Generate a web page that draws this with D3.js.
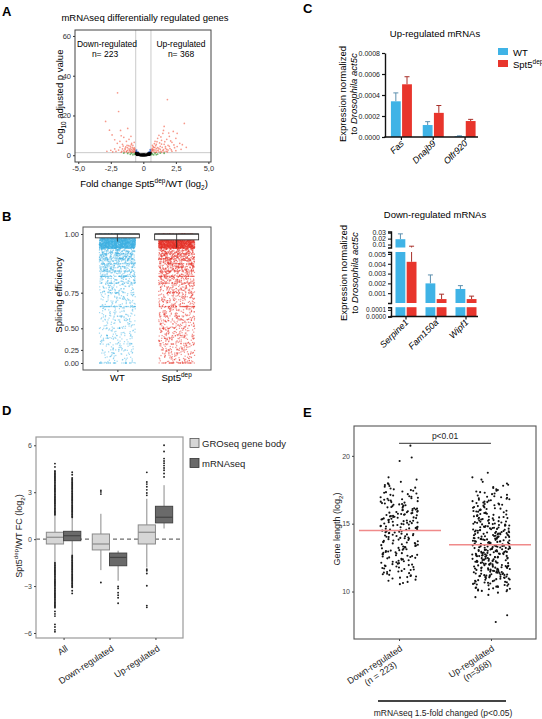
<!DOCTYPE html>
<html><head><meta charset="utf-8">
<script src="https://cdn.jsdelivr.net/npm/d3@7"></script>
<style>body{margin:0;background:#fff}svg{display:block;font-family:"Liberation Sans",Arial,Helvetica,sans-serif}</style>
</head><body><svg id="fig" width="542" height="719"></svg>
<script>
// ================= DATA =================
// Panel A: volcano plot  [log2 fold change, -log10 adjusted p]
const volcanoRed = [[-1.98,31.4],[-1.9,22],[-2.9,17],[-1.75,12.5],[-1.2,13.5],[-2.4,10.2],[-2.6,12.6],[-1.5,9],[-1.1,8],[-1.3,7],[-0.9,6],[-0.8,5],[-1.0,4.5],[-1.6,5.5],[-2.0,6],[-1.8,4],[-1.4,3.5],[-0.7,3.8],[-0.65,2.5],[-0.9,2.8],[-1.2,2.5],[-1.5,2.2],[-1.9,2.6],[-2.2,3.2],[-0.75,1.8],[-1.0,1.6],[-1.3,1.7],[-1.7,1.5],[-2.1,1.9],[-0.85,4.0],[-1.1,3.2],[-0.7,6.5],[-1.25,5.0],[-0.62,2.0],[-0.95,1.9],[-1.4,2.9],[-1.6,3.2],[-1.05,2.2],[-0.8,2.3],[-0.72,2.9],[-2.5,2.5],[-1.15,1.5],[-0.88,1.5],[-1.35,4.2],[-1.8,7.0],[-0.95,9.5],[-2.2,7.8],[-0.68,1.6],[-0.78,3.3],[-0.98,3.6],[-1.12,4.8],[-1.45,1.6],[-1.55,4.6],[-1.65,2.0],[-2.35,1.7],[-0.82,1.45],[-1.28,2.1],[-0.92,5.3],[-1.7,9.8],[-0.66,3.2],[-1.02,2.7],[-1.22,3.8],[-2.8,2.0],[-0.6,1.5],
  [1.85,28],[3.15,16],[1.6,14.5],[2.3,12],[1.5,11],[1.2,10],[2.0,9.5],[2.6,11],[1.8,8],[1.1,8.5],[0.9,7],[1.4,7.5],[2.2,6.5],[1.0,5.5],[0.7,5],[1.6,5.5],[2.8,6],[1.3,4.5],[0.8,4],[2.0,4.5],[1.1,3.8],[0.65,3],[0.9,2.6],[1.3,3],[1.7,3.5],[2.4,3.8],[0.75,2.1],[1.05,2.2],[1.5,2.3],[1.9,2.6],[0.6,1.8],[0.85,1.6],[1.2,1.7],[1.6,1.6],[2.2,2.0],[0.7,3.5],[1.0,3.3],[1.45,4.0],[1.9,5.0],[2.5,8.5],[1.25,6.2],[0.95,4.8],[3.3,4],[1.75,2.0],[0.8,2.8],[1.15,2.6],[2.9,3],[1.35,2.0],[0.68,2.4],[0.95,1.45],[1.55,12.5],[1.95,11.2],[2.1,7.2],[1.35,9.2],[0.85,5.8],[1.65,6.8],[2.35,5.2],[1.05,6.8],[0.75,4.4],[1.4,5.6],[1.8,3.0],[2.05,3.4],[2.6,4.4],[0.62,1.5],[1.0,1.5],[1.4,1.45],[1.85,1.7],[2.5,2.3],[0.72,2.7],[1.2,3.5],[1.55,2.8],[2.15,2.7],[0.88,3.9],[3.0,5.3],[1.7,4.3]];
const volcanoGreen = [[-0.7,0.8],[-0.9,1.0],[-1.2,0.9],[-0.65,0.4],[-1.0,0.5],[-1.5,1.1],[-0.8,0.2],[0.7,0.7],[0.9,1.0],[1.1,0.6],[0.65,0.3],[1.3,1.1],[0.8,0.2],[1.6,1.0],[1.0,0.3]];
const volcanoBlue = [[-0.5,1.6],[-0.55,2.0],[-0.45,1.4],[-0.52,2.6],[0.5,1.7],[0.55,2.2],[0.45,1.5],[0.53,2.8],[-0.4,1.5],[0.4,1.4]];
const volcanoBlack = [[-0.55,1.1],[-0.5,0.9],[-0.45,0.7],[-0.4,0.55],[-0.35,0.4],[-0.3,0.3],[-0.25,0.2],[-0.2,0.12],[-0.15,0.06],[-0.1,0.03],[-0.05,0.01],[0,0],[0.05,0.01],[0.1,0.03],[0.15,0.06],[0.2,0.12],[0.25,0.2],[0.3,0.3],[0.35,0.4],[0.4,0.55],[0.45,0.7],[0.5,0.9],[0.55,1.1],[-0.52,0.5],[-0.42,0.3],[-0.32,0.1],[-0.22,0.05],[-0.12,0.3],[0.12,0.2],[0.22,0.08],[0.32,0.15],[0.42,0.35],[0.52,0.6],[-0.48,0.2],[0.48,0.25],[-0.38,0.8],[0.38,0.9],[0,0.4],[-0.05,0.2],[0.07,0.35]];
const volcanoXTicks = [-5,-2.5,0,2.5,5];
const volcanoXLabels = ["-5,0","-2,5","0","2,5","5,0"];
const volcanoYTicks = [0,20,40,60];
const volcanoFCcut = 0.585, volcanoPcut = 1.3;

// Panel B: splicing efficiency (bin start, counts per bin) + discrete-value stripes
const spliceGroups = ["WT","Spt5dep"];
const spliceBinStarts = [0,0.05,0.1,0.15,0.2,0.25,0.3,0.35,0.4,0.45,0.5,0.55,0.6,0.65,0.7,0.75,0.8,0.85,0.9,0.95];
const spliceWTCounts = [8,8,9,10,11,12,14,16,18,20,24,28,32,40,52,68,100,160,300,1700];
const spliceKOCounts = [16,16,17,18,20,22,26,30,34,38,44,50,56,66,80,100,135,200,320,1600];
const spliceStripeValues = [0.95,0.929,0.909,0.889,0.875,0.857,0.833,0.8,0.75,0.667,0.6,0.571,0.5,0.429,0.4,0.333,0.25,0.2,0];
const spliceStripeWT = [30,20,20,28,14,22,40,22,14,40,8,6,10,6,6,10,7,5,28];
const spliceStripeKO = [30,20,20,28,14,22,40,22,14,40,10,8,12,7,8,12,8,6,32];
const spliceQ3 = [1.0,1.0], spliceMedian = [1.0,1.0], spliceQ1 = [0.987,0.980], spliceWhiskLo = [0.974,0.952];
const spliceTicks = [0,0.25,0.5,0.75,1];

// Panel C: RT-qPCR
const upGenes = ["Fas","Dnajb9","Olfr920"];
const upWT = [0.00034,0.000114,0.000008];
const upWTerr = [0.00008,0.000032,0.000003];
const upKO = [0.000502,0.00023,0.000152];
const upKOerr = [0.000072,0.00007,0.000016];
const upTicks = [0,0.0002,0.0004,0.0006,0.0008];
const downGenes = ["Serpine1","Fam150a","Wipf1"];
const downWT = [0.019,0.002,0.00143];
const downWTerr = [0.009,0.00086,0.00034];
const downKO = [0.0042,0.0004,0.0004];
const downKOerr = [0.003,0.0005,0.0003];
const downSegDomains = [[0,0.00014],[0,0.0052],[0.005,0.032]];
const downSegTicks = [[0,0.0001],[0.001,0.002,0.003,0.004,0.005],[0.01,0.02,0.03]];
const downSegFormats = [".4f",".3f",".2f"];

// Panel D: box plot statistics (log2 FC)
const dCats = ["All","Down-regulated","Up-regulated"];
const groMed = [0.12,-0.31,0.44], groQ1 = [-0.31,-0.69,-0.31], groQ3 = [0.44,0.33,0.91];
const groLo = [-1.45,-1.98,-1.81], groHi = [1.56,1.62,2.58];
const groDense = [[[1.56,4.42],[-4.38,-1.45]],[],[]];
const groOut = [[4.83,4.62,-4.62,-4.78,-4.92,-5.45,-5.62,-5.8,-5.92],[3.12,3.02,2.88,-2.77],[4.27,3.65,3.52,3.35,3.15,2.95,2.8,-1.92,-2.02,-2.2,-2.98,-4.25,-4.36]];
const mrnaMed = [0.22,-1.17,1.4], mrnaQ1 = [-0.1,-1.7,1.04], mrnaQ3 = [0.5,-0.89,2.1];
const mrnaLo = [-1.0,-2.66,0.68], mrnaHi = [1.4,-0.74,3.45];
const mrnaDense = [[[1.4,3.96],[-3.08,-1.0]],[],[]];
const mrnaOut = [[4.28,4.12,-3.3,-3.47],[-3.03,-3.15,-3.42,-3.58,-3.75,-4.1],[6.0,5.6,5.15,5.0,4.85,4.7,4.55,4.4,4.2,3.98]];
const dTicks = [-6,-3,0,3,6];

// Panel E: gene length (log2) histogram counts per 0.5 bin
const eCats = ["Down","Up"];
const eBinStarts = [7.5,8,8.5,9,9.5,10,10.5,11,11.5,12,12.5,13,13.5,14,14.5,15,15.5,16,16.5,17,17.5,18,18.5,19,19.5,20,20.5];
const eDownCounts = [0,0,0,0,0,0,6,12,14,14,16,15,16,18,18,20,20,16,14,10,8,3,0,0,2,0,1];
const eUpCounts   = [1,1,0,0,3,16,20,28,30,30,34,34,30,29,24,20,18,16,14,10,6,3,1,0,0,0,0];
const eMedians = [14.5,13.45];
const eTicks = [10,15,20];
const eLabels = [["Down-regulated","(n = 223)"],["Up-regulated","(n=368)"]];

// ================= DRAWING =================
const svg = d3.select("#fig");
svg.append("rect").attr("width",542).attr("height",719).attr("fill","#fff");
const BLUE = "#3fb3e6", RED = "#e8352c";
// deterministic jitter (layout only)
const jit = n => { const s = Math.sin(n*127.1 + 311.7)*43758.5453; return s - Math.floor(s); };

function rich(t, parts, fs){
  let shift = 0;
  parts.forEach(([s,k]) => {
    const ts = t.append("tspan").text(s);
    let target = 0, size = fs;
    if (k === "sup") { target = -fs*0.4; size = fs*0.68; }
    else if (k === "sub") { target = fs*0.28; size = fs*0.68; }
    ts.attr("font-size", size);
    if (k === "it") ts.attr("font-style","italic");
    if (target !== shift) { ts.attr("dy", target - shift); shift = target; }
  });
  return t;
}
function letter(s,x,y){ svg.append("text").attr("x",x).attr("y",y).attr("font-size",13).attr("font-weight","bold").text(s); }
function styleAxis(g, fs, col){
  g.select(".domain").remove();
  g.selectAll(".tick line").attr("stroke",col||"#333");
  g.selectAll(".tick text").attr("font-size",fs).attr("fill",col||"#333").attr("font-family",null);
}
// places binned values: evenly spaced within each bin, jittered horizontally
function binPoints(starts, counts, width, cx, half, yfn, seed){
  const pts = []; let n = seed;
  starts.forEach((lo,i) => {
    for (let k=0;k<counts[i];k++){ pts.push([cx-half+jit(n)*2*half, yfn(lo+(k+0.5)/counts[i]*width)]); n++; }
  });
  return pts;
}

// ---------- Panel A ----------
letter("A",2,16);
{
  const x = d3.scaleLinear().domain([-5.25,5.2]).range([75,211]);
  const y = d3.scaleLinear().domain([-3.4,63]).range([162,30]);
  svg.append("text").attr("x",145).attr("y",21).attr("text-anchor","middle").attr("font-size",9.5).text("mRNAseq differentially regulated genes");
  const g = svg.append("g");
  [-volcanoFCcut, volcanoFCcut].forEach(v => g.append("line").attr("x1",x(v)).attr("x2",x(v)).attr("y1",30).attr("y2",162).attr("stroke","#c4c4c4").attr("stroke-width",0.9));
  g.append("line").attr("x1",75).attr("x2",211).attr("y1",y(volcanoPcut)).attr("y2",y(volcanoPcut)).attr("stroke","#c4c4c4").attr("stroke-width",0.9);
  const pts = (arr,col,r,op) => g.append("g").selectAll("circle").data(arr).join("circle")
    .attr("cx",d=>x(d[0])).attr("cy",d=>y(d[1])).attr("r",r).attr("fill",col).attr("opacity",op);
  pts(volcanoRed,"#f0432a",0.85,0.55);
  pts(volcanoGreen,"#4fa64a",0.9,0.8);
  pts(volcanoBlue,"#3567c8",0.9,0.8);
  pts(volcanoBlack,"#000",1.3,1);
  svg.append("rect").attr("x",75).attr("y",30).attr("width",136).attr("height",132).attr("fill","none").attr("stroke","#444").attr("stroke-width",1);
  const ax = svg.append("g").attr("transform","translate(0,162)").call(d3.axisBottom(x).tickValues(volcanoXTicks).tickFormat((d,i)=>volcanoXLabels[i]).tickSize(2).tickPadding(2));
  styleAxis(ax,7.5);
  const ay = svg.append("g").attr("transform","translate(75,0)").call(d3.axisLeft(y).tickValues(volcanoYTicks).tickSize(2).tickPadding(2));
  styleAxis(ay,7.5);
  svg.append("text").attr("x",107).attr("y",47).attr("text-anchor","middle").attr("font-size",8.5).text("Down-regulated");
  svg.append("text").attr("x",105).attr("y",56.5).attr("text-anchor","middle").attr("font-size",8.5).text("n= 223");
  svg.append("text").attr("x",181).attr("y",47).attr("text-anchor","middle").attr("font-size",8.5).text("Up-regulated");
  svg.append("text").attr("x",181).attr("y",56.5).attr("text-anchor","middle").attr("font-size",8.5).text("n= 368");
  rich(svg.append("text").attr("transform","translate(63,97) rotate(-90)").attr("text-anchor","middle"),
    [["Log",""],["10","sub"],[" adjusted p value",""]],9.5);
  rich(svg.append("text").attr("x",144).attr("y",187).attr("text-anchor","middle"),
    [["Fold change Spt5",""],["dep","sup"],["/WT (log",""],["2","sub"],[")",""]],9.5);
}

// ---------- Panel B ----------
letter("B",2,221);
{
  const T = d3.scaleLinear().domain([0, Math.expm1(2)]).range([363,234]);
  const Y = v => T(Math.expm1(2*v));
  const X = d3.scalePoint().domain(spliceGroups).range([83,211]).padding(0.58);
  const half = 18;
  const groups = [[spliceWTCounts, spliceStripeWT, BLUE, 0.5],[spliceKOCounts, spliceStripeKO, RED, 0.55]];
  groups.forEach(([counts, stripes, col, op], gi) => {
    const cx = X(spliceGroups[gi]);
    const pts = binPoints(spliceBinStarts, counts, 0.05, cx, half, Y, 1000 + gi*9000);
    let n = 50000 + gi*3000;
    spliceStripeValues.forEach((v,i) => {
      for (let k=0;k<stripes[i];k++){ pts.push([cx-half+jit(n)*2*half, Y(v)]); n++; }
    });
    svg.append("g").selectAll("rect").data(pts).join("rect")
      .attr("x",d=>d[0]-0.6).attr("y",d=>d[1]-0.6).attr("width",1.2).attr("height",1.2)
      .attr("fill",col).attr("opacity",op);
    const bw = 22;
    svg.append("line").attr("x1",cx).attr("x2",cx).attr("y1",Y(spliceQ1[gi])).attr("y2",Y(spliceWhiskLo[gi])).attr("stroke","#222").attr("stroke-width",0.8);
    svg.append("rect").attr("x",cx-bw).attr("y",Y(spliceQ3[gi])).attr("width",2*bw).attr("height",Math.max(1,Y(spliceQ1[gi])-Y(spliceQ3[gi])))
      .attr("fill","#fff").attr("stroke","#333").attr("stroke-width",0.9);
    svg.append("line").attr("x1",cx-bw).attr("x2",cx+bw).attr("y1",Y(spliceMedian[gi])).attr("y2",Y(spliceMedian[gi])).attr("stroke","#222").attr("stroke-width",1);
    svg.append("line").attr("x1",cx).attr("x2",cx).attr("y1",Y(spliceMedian[gi])).attr("y2",Y(spliceQ1[gi])).attr("stroke","#222").attr("stroke-width",0.8);
  });
  svg.append("rect").attr("x",83).attr("y",227).attr("width",128).attr("height",143).attr("fill","none").attr("stroke","#555").attr("stroke-width",1);
  const ay = svg.append("g").attr("transform","translate(83,0)").call(d3.axisLeft(T).tickValues(spliceTicks.map(v=>Math.expm1(2*v))).tickFormat((d,i)=>d3.format(".2f")(spliceTicks[i])).tickSize(2).tickPadding(2));
  styleAxis(ay,7.5);
  const axb = svg.append("g").attr("transform","translate(0,370)").call(d3.axisBottom(X).tickSize(2).tickFormat(""));
  styleAxis(axb,8);
  svg.append("text").attr("x",X("WT")).attr("y",381).attr("text-anchor","middle").attr("font-size",9.5).text("WT");
  rich(svg.append("text").attr("x",X("Spt5dep")).attr("y",381).attr("text-anchor","middle"),[["Spt5",""],["dep","sup"]],9.5);
  svg.append("text").attr("transform","translate(62,295) rotate(-90)").attr("text-anchor","middle").attr("font-size",9.5).text("Splicing efficiency");
}

// ---------- Panel C ----------
letter("C",303,13);
{
  svg.append("rect").attr("x",498).attr("y",48).attr("width",10).attr("height",7).attr("fill",BLUE);
  svg.append("rect").attr("x",498).attr("y",60).attr("width",10).attr("height",7).attr("fill",RED);
  svg.append("text").attr("x",513).attr("y",55.5).attr("font-size",9.5).text("WT");
  rich(svg.append("text").attr("x",513).attr("y",67.5),[["Spt5",""],["dep","sup"]],9.5);

  const sub = d3.scaleBand().domain(["WT","KO"]).range([-10.5,10.5]).paddingInner(0.12);
  const ylabel = (cx,cy) => {
    svg.append("text").attr("transform",`translate(${cx},${cy}) rotate(-90)`).attr("text-anchor","middle").attr("font-size",9.5).text("Expression normalized");
    rich(svg.append("text").attr("transform",`translate(${cx+11},${cy}) rotate(-90)`).attr("text-anchor","middle"),[["to ",""],["Drosophila  act5c","it"]],9.5);
  };
  // Up-regulated
  {
    svg.append("text").attr("x",435).attr("y",37).attr("text-anchor","middle").attr("font-size",9.5).text("Up-regulated mRNAs");
    const Y = d3.scaleLinear().domain([0,0.0008]).range([137,53]);
    const X = d3.scaleBand().domain(upGenes).range([385.5,481]);
    const series = [["WT",upWT,upWTerr,BLUE,"#5d8fae"],["KO",upKO,upKOerr,RED,"#a8302a"]];
    series.forEach(([k,vals,errs,col,ecol]) => {
      upGenes.forEach((gname,i) => {
        const bx = X(gname)+X.bandwidth()/2+sub(k), bw = sub.bandwidth(), mx = bx+bw/2;
        const top = vals[i]+errs[i];
        svg.append("line").attr("x1",mx).attr("x2",mx).attr("y1",Y(vals[i])).attr("y2",Y(top)).attr("stroke",ecol).attr("stroke-width",1);
        svg.append("line").attr("x1",mx-2.5).attr("x2",mx+2.5).attr("y1",Y(top)).attr("y2",Y(top)).attr("stroke",ecol).attr("stroke-width",1);
        svg.append("rect").attr("x",bx).attr("y",Y(vals[i])).attr("width",bw).attr("height",Y(0)-Y(vals[i])).attr("fill",col);
      });
    });
    const ay = svg.append("g").attr("transform","translate(385,0)").call(d3.axisLeft(Y).tickValues(upTicks).tickFormat(d3.format(".4f")).tickSize(3).tickSizeOuter(0).tickPadding(2));
    ay.select(".domain").attr("stroke","#111").attr("stroke-width",1.4);
    ay.selectAll(".tick line").attr("stroke","#111").attr("stroke-width",1.2);
    ay.selectAll(".tick text").attr("font-size",7).attr("fill","#222").attr("font-family",null);
    svg.append("line").attr("x1",384.3).attr("x2",478).attr("y1",137).attr("y2",137).attr("stroke","#111").attr("stroke-width",1.5);
    upGenes.forEach(gname => {
      const cx = X(gname)+X.bandwidth()/2;
      svg.append("line").attr("x1",cx).attr("x2",cx).attr("y1",137).attr("y2",140).attr("stroke","#111").attr("stroke-width",1.2);
      svg.append("text").attr("transform",`translate(${cx+3},${144}) rotate(-45)`).attr("text-anchor","end").attr("font-size",9).attr("font-style","italic").text(gname);
    });
    ylabel(346,94);
  }
  // Down-regulated (broken axis)
  {
    svg.append("text").attr("x",435).attr("y",218).attr("text-anchor","middle").attr("font-size",9.5).text("Down-regulated mRNAs");
    const segRanges = [[316.5,307.2],[303,252],[247.5,231.5]];
    const X = d3.scaleBand().domain(downGenes).range([391,481]);
    const series = [["WT",downWT,downWTerr,BLUE,"#5d8fae"],["KO",downKO,downKOerr,RED,"#a8302a"]];
    downSegDomains.forEach((dom,si) => {
      const Y = d3.scaleLinear().domain(dom).range(segRanges[si]);
      series.forEach(([k,vals,errs,col,ecol]) => {
        downGenes.forEach((gname,i) => {
          const bx = X(gname)+X.bandwidth()/2+sub(k), bw = sub.bandwidth(), mx = bx+bw/2;
          const v = vals[i], top = vals[i]+errs[i];
          if (top > dom[0] && v < dom[1]) {
            const a = Math.max(v,dom[0]), b = Math.min(top,dom[1]);
            svg.append("line").attr("x1",mx).attr("x2",mx).attr("y1",Y(a)).attr("y2",Y(b)).attr("stroke",ecol).attr("stroke-width",1);
            if (top <= dom[1]) svg.append("line").attr("x1",mx-2.5).attr("x2",mx+2.5).attr("y1",Y(top)).attr("y2",Y(top)).attr("stroke",ecol).attr("stroke-width",1);
          }
          if (v > dom[0]) {
            const b = Math.min(v,dom[1]);
            svg.append("rect").attr("x",bx).attr("y",Y(b)).attr("width",bw).attr("height",Y(dom[0])-Y(b)).attr("fill",col);
          }
        });
      });
      const ay = svg.append("g").attr("transform","translate(391,0)").call(d3.axisLeft(Y).tickValues(downSegTicks[si]).tickFormat(d3.format(downSegFormats[si])).tickSize(3).tickSizeOuter(3).tickPadding(2));
      ay.select(".domain").attr("stroke","#111").attr("stroke-width",1.4).attr("fill","none");
      ay.selectAll(".tick line").attr("stroke","#111").attr("stroke-width",1.1);
      ay.selectAll(".tick text").attr("font-size",si===0?6.5:7).attr("fill","#222").attr("font-family",null);
    });
    svg.append("line").attr("x1",390.3).attr("x2",478).attr("y1",316.5).attr("y2",316.5).attr("stroke","#111").attr("stroke-width",1.5);
    downGenes.forEach(gname => {
      const cx = X(gname)+X.bandwidth()/2;
      svg.append("line").attr("x1",cx).attr("x2",cx).attr("y1",316.5).attr("y2",319.5).attr("stroke","#111").attr("stroke-width",1.2);
      svg.append("text").attr("transform",`translate(${cx+3},${323}) rotate(-45)`).attr("text-anchor","end").attr("font-size",9).attr("font-style","italic").text(gname);
    });
    ylabel(347,273);
  }
}

// ---------- Panel D ----------
letter("D",2,415);
{
  const X = d3.scalePoint().domain(dCats).range([36,183]).padding(0.6);
  const Y = d3.scaleLinear().domain([-6.32,6.53]).range([638,437]);
  const bw = X.step()*0.75/2;
  svg.append("line").attr("x1",36).attr("x2",183).attr("y1",Y(0)).attr("y2",Y(0)).attr("stroke","#6e6e6e").attr("stroke-width",1.3).attr("stroke-dasharray","4,3");
  const sets = [
    [groMed,groQ1,groQ3,groLo,groHi,groDense,groOut,"#d6d6d6","#8a8a8a",-1],
    [mrnaMed,mrnaQ1,mrnaQ3,mrnaLo,mrnaHi,mrnaDense,mrnaOut,"#6a6a6a","#444",0]
  ];
  sets.forEach(([med,q1,q3,lo,hi,dense,out,fill,stroke,off]) => {
    dCats.forEach((c,i) => {
      const x0 = X(c)+off*bw, cx = x0+bw/2;
      svg.append("line").attr("x1",cx).attr("x2",cx).attr("y1",Y(q3[i])).attr("y2",Y(hi[i])).attr("stroke","#8a8a8a").attr("stroke-width",1);
      svg.append("line").attr("x1",cx).attr("x2",cx).attr("y1",Y(q1[i])).attr("y2",Y(lo[i])).attr("stroke","#8a8a8a").attr("stroke-width",1);
      const dots = out[i].slice();
      dense[i].forEach(([a,b]) => d3.range(a,b,0.07).forEach(v => dots.push(v)));
      svg.append("g").selectAll("circle").data(dots).join("circle").attr("cx",cx).attr("cy",d=>Y(d)).attr("r",0.95).attr("fill","#222");
      svg.append("rect").attr("x",x0).attr("y",Y(q3[i])).attr("width",bw).attr("height",Y(q1[i])-Y(q3[i])).attr("fill",fill).attr("stroke",stroke).attr("stroke-width",1);
      svg.append("line").attr("x1",x0).attr("x2",x0+bw).attr("y1",Y(med[i])).attr("y2",Y(med[i])).attr("stroke",stroke).attr("stroke-width",1.2);
    });
  });
  svg.append("rect").attr("x",36).attr("y",437).attr("width",147).attr("height",201).attr("fill","none").attr("stroke","#9a9a9a").attr("stroke-width",1.2);
  const ay = svg.append("g").attr("transform","translate(36,0)").call(d3.axisLeft(Y).tickValues(dTicks).tickSize(2).tickPadding(2));
  styleAxis(ay,7,"#444");
  const ax = svg.append("g").attr("transform","translate(0,638)").call(d3.axisBottom(X).tickSize(2).tickFormat(""));
  styleAxis(ax,7,"#444");
  dCats.forEach(c => {
    svg.append("text").attr("transform",`translate(${X(c)+5},${650}) rotate(-33)`).attr("text-anchor","end").attr("font-size",9).attr("fill","#222").text(c);
  });
  rich(svg.append("text").attr("transform","translate(22,536) rotate(-90)").attr("text-anchor","middle").attr("fill","#222"),
    [["Spt5",""],["dep","sup"],["/WT FC (log",""],["2","sub"],[")",""]],9);
  svg.append("rect").attr("x",190).attr("y",438.5).attr("width",9).attr("height",9).attr("fill","#d6d6d6").attr("stroke","#555").attr("stroke-width",0.8);
  svg.append("rect").attr("x",190).attr("y",458.5).attr("width",9).attr("height",9).attr("fill","#6a6a6a").attr("stroke","#333").attr("stroke-width",0.8);
  svg.append("text").attr("x",202).attr("y",446.5).attr("font-size",9.5).attr("fill","#222").text("GROseq gene body");
  svg.append("text").attr("x",202).attr("y",466.5).attr("font-size",9.5).attr("fill","#222").text("mRNAseq");
}

// ---------- Panel E ----------
letter("E",303,417);
{
  const X = d3.scalePoint().domain(eCats).range([354,536]).padding(0.49);
  const Y = d3.scaleLinear().domain([6.5,22.2]).range([639,426]);
  const half = 19;
  [eDownCounts,eUpCounts].forEach((counts,gi) => {
    const pts = binPoints(eBinStarts, counts, 0.5, X(eCats[gi]), half, Y, 200 + gi*1000);
    svg.append("g").selectAll("circle").data(pts).join("circle").attr("cx",d=>d[0]).attr("cy",d=>d[1]).attr("r",1.05).attr("fill","#111");
  });
  svg.append("line").attr("x1",359).attr("x2",441).attr("y1",Y(eMedians[0])).attr("y2",Y(eMedians[0])).attr("stroke","#f08a8a").attr("stroke-width",1.6);
  svg.append("line").attr("x1",449).attr("x2",531).attr("y1",Y(eMedians[1])).attr("y2",Y(eMedians[1])).attr("stroke","#f08a8a").attr("stroke-width",1.6);
  svg.append("line").attr("x1",X("Down")).attr("x2",X("Up")).attr("y1",443.3).attr("y2",443.3).attr("stroke","#333").attr("stroke-width",1);
  svg.append("text").attr("x",(X("Down")+X("Up"))/2).attr("y",438.5).attr("text-anchor","middle").attr("font-size",8.5).attr("fill","#222").text("p<0.01");
  svg.append("rect").attr("x",354).attr("y",426).attr("width",182).attr("height",213).attr("fill","none").attr("stroke","#555").attr("stroke-width",1.1);
  const ay = svg.append("g").attr("transform","translate(354,0)").call(d3.axisLeft(Y).tickValues(eTicks).tickSize(2).tickPadding(2));
  styleAxis(ay,7,"#444");
  const ax = svg.append("g").attr("transform","translate(0,639)").call(d3.axisBottom(X).tickSize(2).tickFormat(""));
  styleAxis(ax,7,"#444");
  eCats.forEach((c,i) => {
    const g = svg.append("g").attr("transform",`translate(${X(c)+4},${650}) rotate(-33)`);
    const t1 = g.append("text").attr("text-anchor","end").attr("font-size",9).attr("fill","#222").text(eLabels[i][0]);
    const L = t1.node().getComputedTextLength();
    g.append("text").attr("x",-L/2).attr("y",10.5).attr("text-anchor","middle").attr("font-size",9).attr("fill","#222").text(eLabels[i][1]);
  });
  rich(svg.append("text").attr("transform","translate(340,529) rotate(-90)").attr("text-anchor","middle").attr("fill","#222"),
    [["Gene length (log",""],["2","sub"],[")",""]],9);
  svg.append("line").attr("x1",378).attr("x2",506).attr("y1",701).attr("y2",701).attr("stroke","#444").attr("stroke-width",2.2);
  svg.append("text").attr("x",443).attr("y",716).attr("text-anchor","middle").attr("font-size",8.5).attr("fill","#222").text("mRNAseq 1.5-fold changed (p<0.05)");
}
</script></body></html>
